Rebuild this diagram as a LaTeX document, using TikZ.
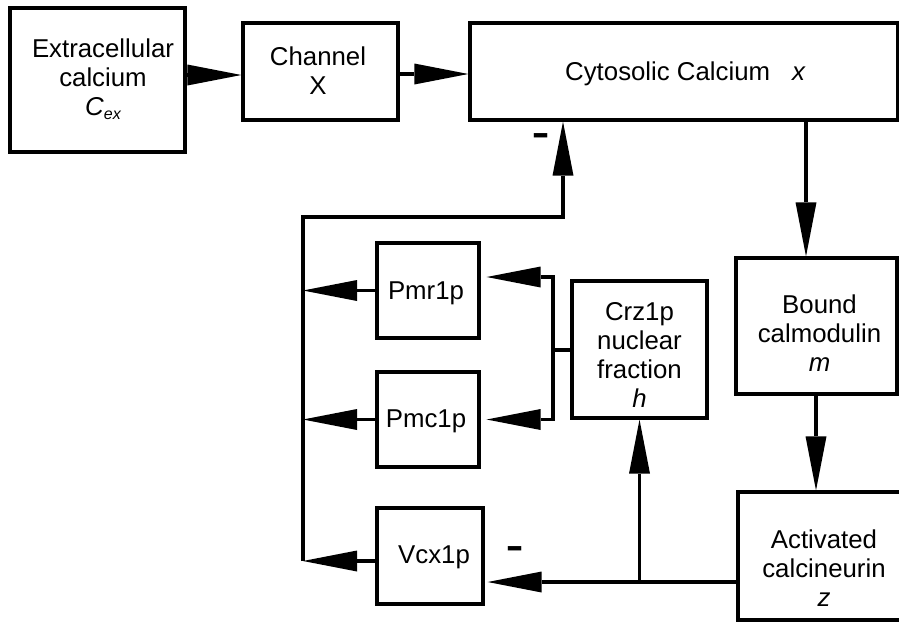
\documentclass[tikz,border=0pt]{standalone}
\usepackage{fontspec}
\setmainfont{Liberation Sans}
\usetikzlibrary{arrows.meta}
\newcommand{\stk}[1]{\begin{tabular}[t]{@{}c@{}}#1\end{tabular}}
\newcommand{\minus}{\scalebox{1.05}[1.7]{\bfseries –}}
\begin{document}
\begin{tikzpicture}[x=1pt,y=-1pt,
  box/.style={draw, line width=3.3pt, inner sep=0pt},
  lbl/.style={inner sep=0pt, anchor=base, font=\fontsize{25.8}{29.3}\selectfont},
  conn/.style={line width=3.3pt},
  arr/.style={line width=3.3pt, -{Triangle[length=54pt,width=21pt,line width=0pt]}}]
\useasboundingbox (0,0) rectangle (899,630);
\clip (0,0) rectangle (899,630);
% boxes
\node[box, minimum width=175pt, minimum height=144pt] (ext) at (97.5,80) {};
\node[box, minimum width=155pt, minimum height=97pt] (chan) at (320.5,71.5) {};
\node[box, minimum width=428pt, minimum height=97pt] (cyto) at (684,71.5) {};
\node[box, minimum width=161pt, minimum height=136pt] (bound) at (816.5,326) {};
\node[box, minimum width=172pt, minimum height=128pt] (act) at (824,556) {};
\node[box, minimum width=102pt, minimum height=95pt] (pmr) at (428,290.5) {};
\node[box, minimum width=102pt, minimum height=95pt] (pmc) at (428,419.5) {};
\node[box, minimum width=135pt, minimum height=137pt] (crz) at (639.5,349.5) {};
\node[box, minimum width=106pt, minimum height=96pt] (vcx) at (430,556) {};
% labels
\node[lbl] (extT) at (103,57) {\stk{Extracellular\\calcium\\\textit{C\raisebox{-4pt}{\fontsize{16}{16}\selectfont ex}}}};
\node[lbl] (chanT) at (318,65) {\stk{Channel\\X}};
\node[lbl, anchor=base west] (cytoT) at (565,80) {Cytosolic Calcium\hspace{22pt}\textit{x}};
\node[lbl] (boundT) at (819.5,313) {\stk{Bound\\calmodulin\\\textit{m}}};
\node[lbl] (actT) at (824,548) {\stk{Activated\\calcineurin\\\textit{z}}};
\node[lbl] (pmrT) at (426,299) {Pmr1p};
\node[lbl] (pmcT) at (426,427) {Pmc1p};
\node[lbl] (crzT) at (639.5,320) {\stk{Crz1p\\nuclear\\fraction\\\textit{h}}};
\node[lbl] (vcxT) at (434,563) {Vcx1p};
\node[inner sep=0pt, font=\fontsize{25.8}{29.3}\selectfont] (m1) at (541.5,141) {\minus};
\node[inner sep=0pt, font=\fontsize{25.8}{29.3}\selectfont] (m2) at (515,554) {\minus};
% helper coordinates
\coordinate (hy1) at (0,75);
\coordinate (hy2) at (0,74);
\coordinate (dx1) at (806,0);
\coordinate (dx2) at (816,0);
\coordinate (fx) at (563,0);
\coordinate (fbT) at (303,217);
\coordinate (fbB) at (303,561);
\coordinate (fbL) at (303,0);
\coordinate (bj) at (553,350);
\coordinate (hz) at (0,582);
% connectors
\draw[arr] (ext.east |- hy1) -- (chan.west |- hy1);
\draw[arr] (chan.east |- hy2) -- (cyto.west |- hy2);
\draw[arr] (cyto.south -| dx1) -- (bound.north -| dx1);
\draw[arr] (bound.south -| dx2) -- (act.north -| dx2);
\draw[arr] (fbB) -- (fbT) -| (cyto.south -| fx);
\draw[arr] (pmr.west) -- (pmr.west -| fbL);
\draw[arr] (pmc.west) -- (pmc.west -| fbL);
\draw[arr] ([yshift=-5pt]vcx.west) -- (fbB);
\draw[conn] (crz.west |- bj) -- (bj);
\draw[arr] (bj) |- ([xshift=6pt,yshift=13.5pt]pmr.east);
\draw[arr] (bj) |- ([xshift=6pt]pmc.east);
\draw[arr] (act.west |- hz) -- ([xshift=3pt]vcx.east |- hz);
\draw[arr] (crz.south |- hz) -- (crz.south);
\end{tikzpicture}
\end{document}
